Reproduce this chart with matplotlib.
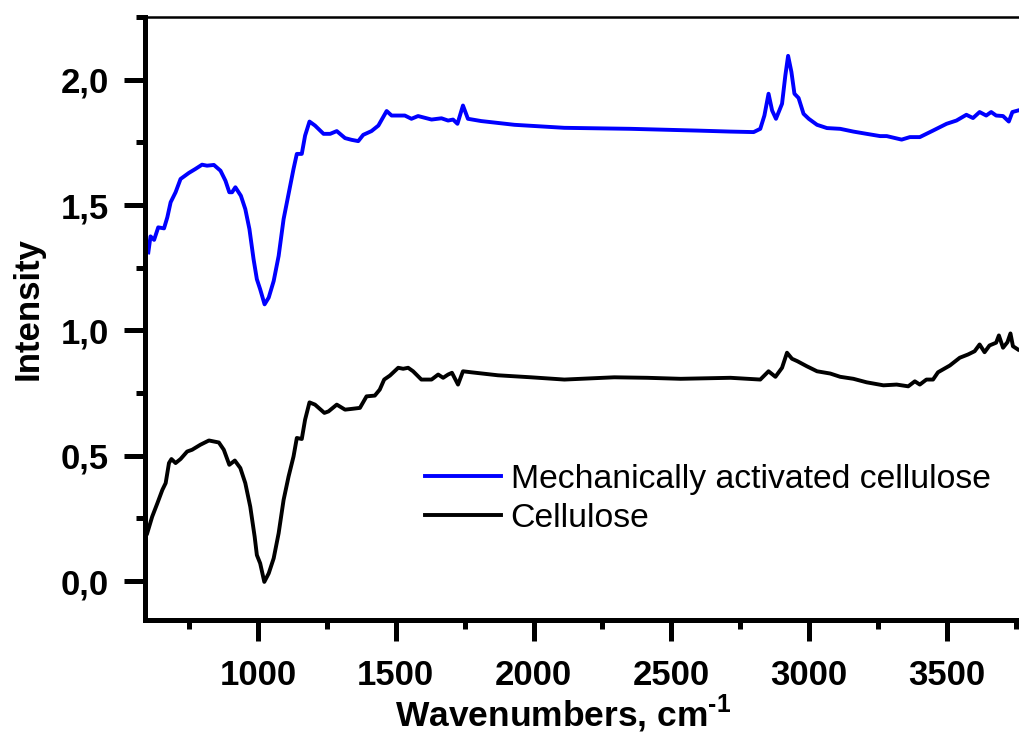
import numpy as np
import matplotlib
matplotlib.use("Agg")
import matplotlib.pyplot as plt
from matplotlib.ticker import MultipleLocator, FuncFormatter

plt.rcParams['font.family'] = 'Liberation Sans'
plt.rcParams['mathtext.fontset'] = 'custom'
plt.rcParams['mathtext.rm'] = 'Liberation Sans:bold'
plt.rcParams['mathtext.bf'] = 'Liberation Sans:bold'

# FTIR spectra, wavenumber (cm-1) vs intensity
wn_mac = [602, 610, 623, 638, 659, 671, 683, 701, 719, 749, 773, 797, 815, 840,
          864, 882, 896, 906, 918, 938, 954, 969, 984, 996, 1008, 1024, 1039,
          1057, 1075, 1093, 1111, 1129, 1141, 1159, 1171, 1187, 1207, 1238,
          1262, 1286, 1316, 1340, 1364, 1382, 1412, 1437, 1467, 1485, 1533,
          1557, 1581, 1630, 1666, 1690, 1708, 1724, 1744, 1762, 1810, 1931,
          2112, 2353, 2594, 2715, 2799, 2823, 2838, 2853, 2866, 2880, 2902,
          2914, 2924, 2936, 2947, 2962, 2980, 2999, 3029, 3065, 3113, 3161,
          3209, 3258, 3282, 3336, 3366, 3402, 3450, 3499, 3535, 3571, 3595,
          3619, 3643, 3661, 3679, 3704, 3725, 3738, 3758]
int_mac = [1.311, 1.375, 1.361, 1.411, 1.407, 1.451, 1.511, 1.551, 1.604, 1.628,
           1.644, 1.661, 1.657, 1.660, 1.637, 1.597, 1.551, 1.551, 1.571, 1.537,
           1.484, 1.404, 1.284, 1.204, 1.164, 1.104, 1.131, 1.197, 1.297, 1.444,
           1.544, 1.644, 1.704, 1.704, 1.777, 1.833, 1.817, 1.784, 1.784, 1.795,
           1.767, 1.760, 1.755, 1.780, 1.795, 1.817, 1.875, 1.857, 1.857, 1.844,
           1.855, 1.841, 1.846, 1.837, 1.841, 1.824, 1.897, 1.844, 1.835, 1.820,
           1.808, 1.804, 1.797, 1.793, 1.791, 1.804, 1.857, 1.944, 1.877, 1.844,
           1.904, 2.017, 2.095, 2.031, 1.944, 1.927, 1.864, 1.844, 1.820, 1.807,
           1.804, 1.793, 1.784, 1.775, 1.775, 1.761, 1.771, 1.771, 1.797, 1.824,
           1.837, 1.860, 1.847, 1.871, 1.857, 1.871, 1.857, 1.855, 1.833, 1.871,
           1.877]

wn_cel = [598, 616, 635, 653, 665, 677, 686, 701, 719, 743, 761, 791, 822, 858,
          876, 896, 916, 936, 954, 972, 988, 996, 1008, 1023, 1039, 1057, 1075,
          1093, 1111, 1129, 1141, 1159, 1171, 1187, 1207, 1241, 1256, 1286,
          1316, 1340, 1370, 1394, 1424, 1442, 1458, 1479, 1509, 1527, 1545,
          1563, 1593, 1630, 1654, 1672, 1690, 1704, 1726, 1744, 1774, 1871,
          1991, 2112, 2293, 2413, 2534, 2715, 2823, 2853, 2878, 2902, 2920,
          2938, 2958, 2992, 3029, 3077, 3113, 3161, 3209, 3270, 3318, 3360,
          3384, 3402, 3426, 3450, 3468, 3511, 3547, 3577, 3601, 3619, 3637,
          3655, 3679, 3689, 3704, 3720, 3731, 3740, 3758]
int_cel = [0.191, 0.257, 0.311, 0.364, 0.391, 0.471, 0.487, 0.471, 0.487, 0.517,
           0.524, 0.544, 0.561, 0.553, 0.524, 0.464, 0.481, 0.451, 0.391, 0.297,
           0.177, 0.104, 0.071, -0.003, 0.031, 0.091, 0.191, 0.324, 0.417, 0.497,
           0.571, 0.567, 0.644, 0.713, 0.704, 0.671, 0.677, 0.704, 0.684, 0.687,
           0.691, 0.737, 0.740, 0.764, 0.804, 0.820, 0.851, 0.847, 0.851, 0.837,
           0.804, 0.804, 0.824, 0.811, 0.824, 0.831, 0.784, 0.837, 0.833, 0.821,
           0.813, 0.804, 0.813, 0.811, 0.807, 0.811, 0.804, 0.837, 0.815, 0.851,
           0.911, 0.887, 0.877, 0.857, 0.837, 0.828, 0.815, 0.807, 0.793, 0.781,
           0.784, 0.777, 0.797, 0.784, 0.804, 0.804, 0.833, 0.860, 0.891, 0.904,
           0.917, 0.944, 0.913, 0.940, 0.951, 0.980, 0.931, 0.953, 0.988, 0.937,
           0.924]

fig = plt.figure(figsize=(10.19, 7.36), dpi=100)
ax = fig.add_axes([0.1423, 0.1576, 0.8577, 0.8193])

ax.plot(wn_mac, int_mac, color='#0000ff', lw=2.8, label='Mechanically activated cellulose')
ax.plot(wn_cel, int_cel, color='black', lw=2.8, label='Cellulose')

ax.set_xlim(590, 3762)
ax.set_ylim(-0.155, 2.25)

ax.xaxis.set_major_locator(MultipleLocator(500))
ax.xaxis.set_minor_locator(MultipleLocator(250))
ax.yaxis.set_major_locator(MultipleLocator(0.5))
ax.yaxis.set_minor_locator(MultipleLocator(0.25))
ax.yaxis.set_major_formatter(FuncFormatter(lambda v, p: f'{v:.1f}'.replace('.', ',')))

ax.tick_params(which='major', direction='out', length=15, width=3.6, labelsize=25)
ax.tick_params(axis='x', which='major', pad=13)
ax.tick_params(axis='y', which='major', pad=11)
ax.tick_params(which='minor', direction='out', length=6.5, width=3.6)
for lab in ax.get_xticklabels() + ax.get_yticklabels():
    lab.set_fontweight('bold')

ax.spines['left'].set_linewidth(3.6)
ax.spines['bottom'].set_linewidth(3.6)
ax.spines['top'].set_linewidth(1.8)
ax.spines['right'].set_visible(False)

ax.set_xlabel(r'Wavenumbers, cm$^{\text{-1}}$', fontsize=25.5, fontweight='bold')
ax.xaxis.set_label_coords(0.478, -0.12)
ax.set_ylabel('Intensity', fontsize=25, fontweight='bold')
ax.yaxis.set_label_coords(-0.115, 0.517)

ax.legend(loc='center left', bbox_to_anchor=(0.32, 0.201), frameon=False,
          fontsize=24.3, handlelength=2.25, handletextpad=0.3, labelspacing=0.23,
          borderpad=0, borderaxespad=0)

fig.savefig('out.png', dpi=100)
